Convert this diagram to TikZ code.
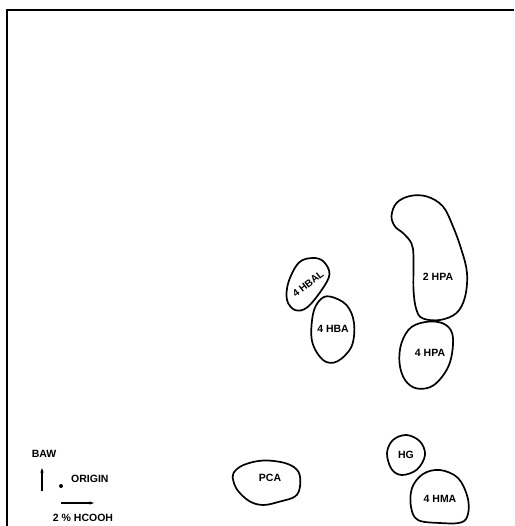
\documentclass[tikz,border=0pt]{standalone}
\usepackage{fontspec}
\setmainfont{Liberation Sans}
\usetikzlibrary{arrows.meta}
\begin{document}
\begin{tikzpicture}[x=1pt,y=-1pt,
  spot/.style={line width=1.7pt, line join=round},
  lbl/.style={font=\fontsize{10.5}{12}\selectfont\bfseries, inner sep=0pt},
  frame/.style={line width=1.6pt},
  axis/.style={line width=1.3pt, -{Latex[length=5.5pt,width=3.5pt]}}]
\useasboundingbox (0,0) rectangle (514,526);
% frame (left and top edges)
\coordinate (fbl) at (7,526);
\coordinate (ftl) at (7,10);
\coordinate (ftr) at (514,10);
\draw[frame] (fbl) -- (ftl) -- (ftr);
% 2 HPA
\draw[spot] plot[smooth cycle, tension=0.6] coordinates {
 (391.5,216) (396.5,203) (410,196) (427,196.5) (443,206.5) (453,226.5)
 (461.5,250) (467,273) (465,297) (456.5,313) (440,320) (423,318.5)
 (416.5,310) (413.5,290) (413.5,257) (411.5,243.5) (403.5,233.5) (395,226.5)};
\node[lbl] (hpa2) at (438,277) {2 HPA};
% 4 HPA
\draw[spot] plot[smooth cycle, tension=0.6] coordinates {
 (430,321.5) (446,325) (453,338) (449,365) (434,385) (417,388.5)
 (405,380) (399.5,363) (401.5,343) (411.5,327)};
\node[lbl] (hpa4) at (430,353) {4 HPA};
% 4 HBAL
\draw[spot] plot[smooth cycle, tension=0.6] coordinates {
 (288.5,282) (299,262.5) (313,258) (323.5,261.5) (329.5,274) (322,289.5)
 (307,307.5) (295,310) (287,300)};
\node[lbl, font=\fontsize{10}{12}\selectfont\bfseries, rotate=38] (hbal) at (308,284) {4 HBAL};
% 4 HBA
\draw[spot] plot[smooth cycle, tension=0.6] coordinates {
 (330,296.5) (346.5,305) (354,323) (351.5,346.5) (337,361.5) (323,360)
 (312,341) (313,314) (320,300)};
\node[lbl] (hba) at (333,329) {4 HBA};
% HG
\draw[spot] plot[smooth cycle, tension=0.6] coordinates {
 (387,453) (393,440) (406.5,435) (420,441.5) (425,455) (417,469.5)
 (402,475) (391.5,469)};
\node[lbl] (hg) at (406,455) {HG};
% 4 HMA
\draw[spot] plot[smooth cycle, tension=0.6] coordinates {
 (412,488) (423,474) (440,470) (458,478) (467.5,497) (468,514)
 (461,522.5) (440,523) (418,520) (411,507)};
\node[lbl] (hma) at (440,499) {4 HMA};
% PCA
\draw[spot] plot[smooth cycle, tension=0.6] coordinates {
 (233.5,473) (243.5,465) (263.5,460.5) (286.5,463.5) (298.5,472) (300,486.5)
 (295,496.5) (280,501.5) (263.5,505) (250,501.5) (238.5,491.5) (233.5,481.5)};
\node[lbl] (pca) at (270,478) {PCA};
% legend
\node[lbl] (baw) at (44,454) {BAW};
\coordinate (ua) at (42,491);
\coordinate (ub) at (42,467);
\draw[axis] (ua) -- (ub);
\fill (61,486) circle (2pt) coordinate (origin);
\node[lbl, anchor=west] (orig) at (71,479) {ORIGIN};
\coordinate (ra) at (61,503);
\coordinate (rb) at (95,503);
\draw[axis] (ra) -- (rb);
\node[lbl] (hcooh) at (83,518) {2 \% HCOOH};
\end{tikzpicture}
\end{document}
